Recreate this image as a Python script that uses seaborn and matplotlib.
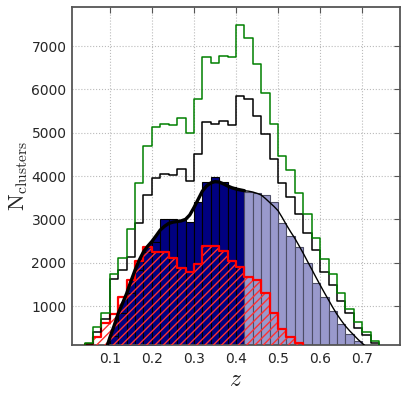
import numpy as np
import matplotlib
matplotlib.use("Agg")
import matplotlib.pyplot as plt
import seaborn as sns

# lower bin edges (0.02 wide) shared by the step histograms
z_bins = np.round(np.arange(0.04, 0.73, 0.02), 2)
bin_w = 0.02

green_counts = [150, 520, 845, 1740, 2100, 2770, 3845, 4700, 5125, 5190,
                5175, 5330, 4990, 5785, 6755, 6610, 6775, 6740, 7485, 7175,
                6585, 5925, 5205, 4455, 4140, 3615, 3120, 2575, 2075, 1740,
                1305, 930, 630, 400, 200]
black_counts = [120, 410, 690, 1615, 1830, 2140, 2925, 3570, 3945, 4055,
                4030, 4170, 3885, 4510, 5245, 5200, 5270, 5185, 5855, 5770,
                5385, 4970, 4400, 3830, 3520, 3120, 2675, 2290, 1790, 1485,
                1120, 830, 500, 320, 150]
red_counts = [120, 290, 600, 815, 1200, 1600, 2040, 2370, 2255, 2255,
              2100, 1880, 1790, 1960, 2380, 2385, 2280, 2040, 1890, 1680,
              1600, 1290, 850, 460, 290, 140, 0, 0, 0, 0,
              0, 0, 0, 0, 0]

# filled histogram, split at z = 0.42
blue_bins = np.round(np.arange(0.10, 0.69, 0.02), 2)
blue_counts = [300, 830, 1290, 1830, 2250, 2485, 3000, 3000, 2990, 2930,
               3400, 3870, 3985, 3870, 3740, 3675, 3640, 3615, 3560, 3405,
               2905, 2620, 2370, 1985, 1530, 1210, 880, 585, 355, 200]
z_split = 0.42

# smooth model curve
curve_z = [0.090, 0.095, 0.10, 0.11, 0.12, 0.13, 0.14, 0.15, 0.16, 0.17,
           0.18, 0.19, 0.20, 0.21, 0.22, 0.23, 0.24, 0.25, 0.26, 0.27,
           0.28, 0.29, 0.30, 0.31, 0.32, 0.33, 0.34, 0.35, 0.36, 0.37,
           0.38, 0.39, 0.40, 0.41, 0.42, 0.43, 0.44, 0.45, 0.46, 0.47,
           0.48, 0.49, 0.50, 0.51, 0.52, 0.53, 0.54, 0.55, 0.56, 0.57,
           0.58, 0.59, 0.60, 0.61, 0.62, 0.63, 0.64, 0.65, 0.66, 0.67,
           0.68, 0.69, 0.70, 0.71]
curve_n = [0, 120, 270, 540, 830, 1060, 1290, 1570, 1830, 2060,
           2250, 2380, 2490, 2620, 2755, 2840, 2905, 2935, 2950, 2965,
           3000, 3100, 3270, 3460, 3650, 3770, 3840, 3870, 3860, 3820,
           3770, 3730, 3700, 3680, 3660, 3650, 3630, 3600, 3560, 3480,
           3390, 3300, 3200, 3040, 2870, 2710, 2560, 2390, 2215, 2030,
           1850, 1665, 1485, 1310, 1140, 970, 810, 670, 540, 430,
           330, 230, 140, 60]

x_ticks = [0.1, 0.2, 0.3, 0.4, 0.5, 0.6, 0.7]
y_ticks = [1000, 2000, 3000, 4000, 5000, 6000, 7000]

sns.set_style("white")
plt.rcParams['font.family'] = ['DejaVu Sans']
plt.rcParams['mathtext.fontset'] = 'cm'
plt.rcParams['hatch.linewidth'] = 1.0

fig = plt.figure(figsize=(4.07, 3.94), dpi=100)
ax = fig.add_axes([72 / 407, 1 - 345 / 394, 328 / 407, 338 / 394])


def edges_of(lo):
    # seaborn compares bins with "auto", so hand it a plain list
    return [round(float(v), 2) for v in np.append(lo, lo[-1] + bin_w)]


def step_hist(counts, color, lw, z):
    # pad with empty bins so the outline drops to zero at both ends
    lo = np.concatenate([[z_bins[0] - bin_w], z_bins, [z_bins[-1] + bin_w]])
    w = np.concatenate([[0], counts, [0]])
    sns.histplot(x=lo + bin_w / 2, weights=w, bins=edges_of(lo), element='step',
                 fill=False, color=color, linewidth=lw, zorder=z, ax=ax)


# navy area under the rising part of the model
cz = np.array(curve_z)
cn = np.array(curve_n)
rise = cz <= 0.22
ax.fill_between(cz[rise], 0, cn[rise], color='#000080', lw=0, zorder=1)

# filled histogram bars
bz = np.array(blue_bins)
bc = np.array(blue_counts)
dark = bz < z_split - 1e-6
for mask, fc, ec in [(dark, '#000080', '#000000'), (~dark, '#9999cc', '#4d4d66')]:
    lo = bz[mask]
    sns.histplot(x=lo + bin_w / 2, weights=bc[mask], bins=edges_of(lo), element='bars',
                 fill=True, facecolor=fc, edgecolor=ec, linewidth=0.8,
                 alpha=1, zorder=2, ax=ax)

# red hatched histogram
zb = np.array(z_bins)
sns.histplot(x=zb + bin_w / 2, weights=red_counts, bins=edges_of(zb), element='bars',
             fill=True, facecolor='none', edgecolor='#ff3030', linewidth=0,
             hatch='////', alpha=1, zorder=3, ax=ax)
step_hist(red_counts, 'red', 1.6, 4)
step_hist(black_counts, 'black', 1.1, 4)
step_hist(green_counts, 'green', 1.1, 4)

# model curve: thick below the split, thin above
thick = cz <= z_split + 1e-6
thin = cz >= z_split - 1e-6
sns.lineplot(x=cz[thick], y=cn[thick], color='black', lw=2.4, zorder=6, ax=ax)
sns.lineplot(x=cz[thin], y=cn[thin], color='black', lw=1.0, zorder=6, ax=ax)

ax.set_xlim(0.01, 0.79)
ax.set_ylim(100, 7900)
ax.set_xticks(x_ticks)
ax.set_xticklabels(['%.1f' % t for t in x_ticks])
ax.set_yticks(y_ticks)
ax.grid(True, ls=':', color='#bbbbbb', lw=0.8)
ax.set_axisbelow(True)
for s in ax.spines.values():
    s.set_color('#555555')
    s.set_linewidth(1.3)
ax.tick_params(direction='in', top=True, right=True, length=4, width=0.8,
               color='#555555', labelsize=10)
ax.tick_params(axis='x', pad=5)
ax.tick_params(axis='y', pad=4)
ax.set_xlabel('$z$', fontsize=17, labelpad=1)
ax.set_ylabel(r'$\mathrm{N_{clusters}}$', fontsize=16, labelpad=1)

fig.savefig('out.png', dpi=100)
